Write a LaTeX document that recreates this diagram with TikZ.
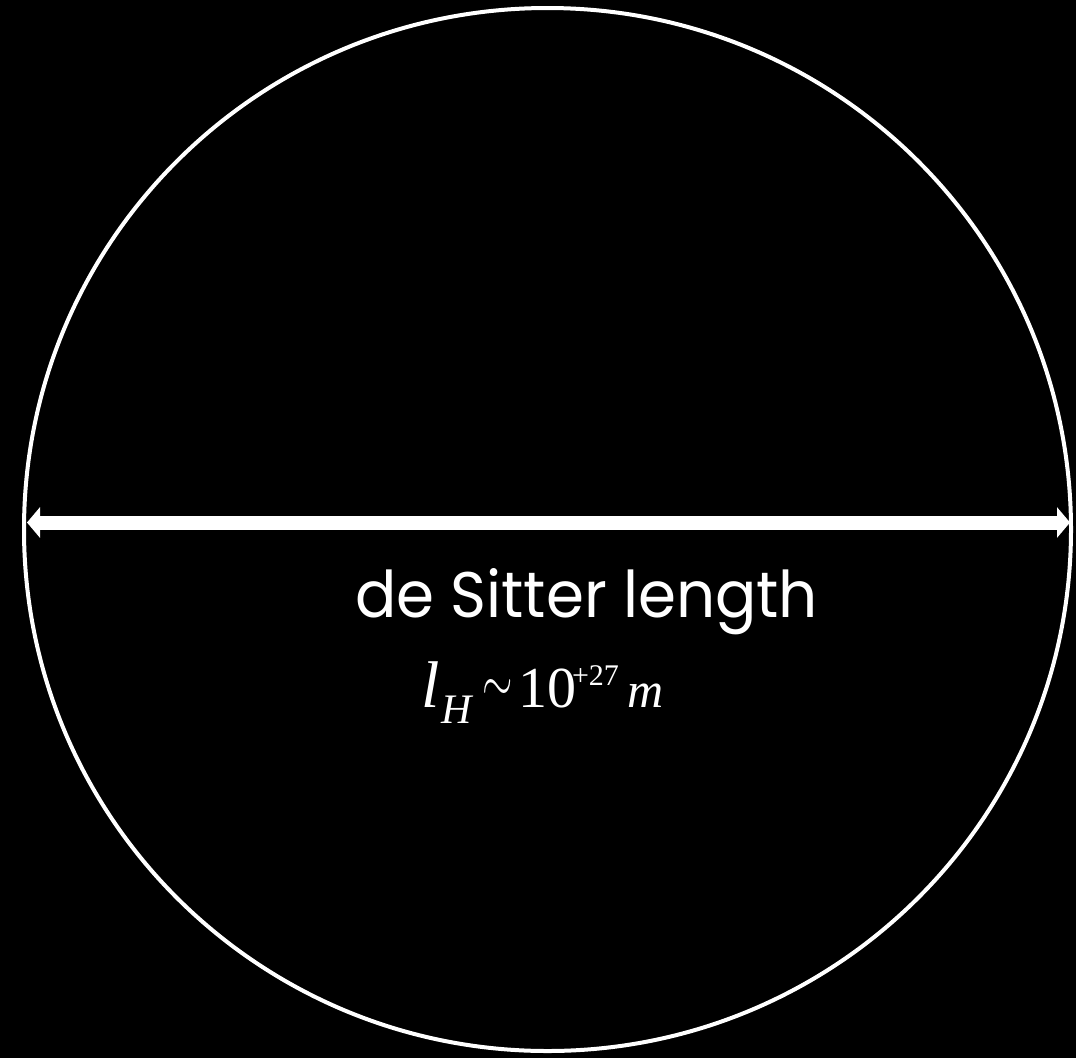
\documentclass[tikz,border=0pt]{standalone}
\usepackage{fontspec}
\usepackage{graphicx}
\usetikzlibrary{arrows.meta}
\newfontfamily\tms{Liberation Serif}
\newfontfamily\pop{Poppins}
\begin{document}
\begin{tikzpicture}[x=1pt,y=-1pt,
  txt/.style={white,inner sep=0pt,outer sep=0pt,anchor=base west},
  rim/.style={white,line width=4pt},
  dim/.style={white,line width=14pt,{Triangle[width=30pt,length=13pt]}-{Triangle[width=30pt,length=13pt]}}]
\fill[black] (0,0) rectangle (1076,1058);
\useasboundingbox (0,0) rectangle (1076,1058);
\draw[rim] (547.5,529.5) ellipse [x radius=523.5, y radius=521.5];
\coordinate (L) at (27,522.5);
\coordinate (R) at (1070,522.5);
\draw[dim] (L) -- (R);
\node[txt] (lbl) at (355,617) {\resizebox{463pt}{49pt}{\pop de Sitter length}};
\node[txt] (l) at (421,707) {\tms\itshape\fontsize{66}{66}\selectfont l};
\node[txt] (H) at (441,723) {\tms\itshape\fontsize{42}{42}\selectfont H};
\node[white,inner sep=0pt] (sim) at (498,690) {\scalebox{3.9}[6]{$\sim$}};
\node[txt] (ten) at (518,707) {\tms\fontsize{58}{58}\selectfont 10};
\node[txt] (exp) at (572,685) {\tms\fontsize{30}{30}\selectfont +27};
\node[txt] (m) at (627,707) {\tms\itshape\fontsize{50}{50}\selectfont m};
\end{tikzpicture}
\end{document}
